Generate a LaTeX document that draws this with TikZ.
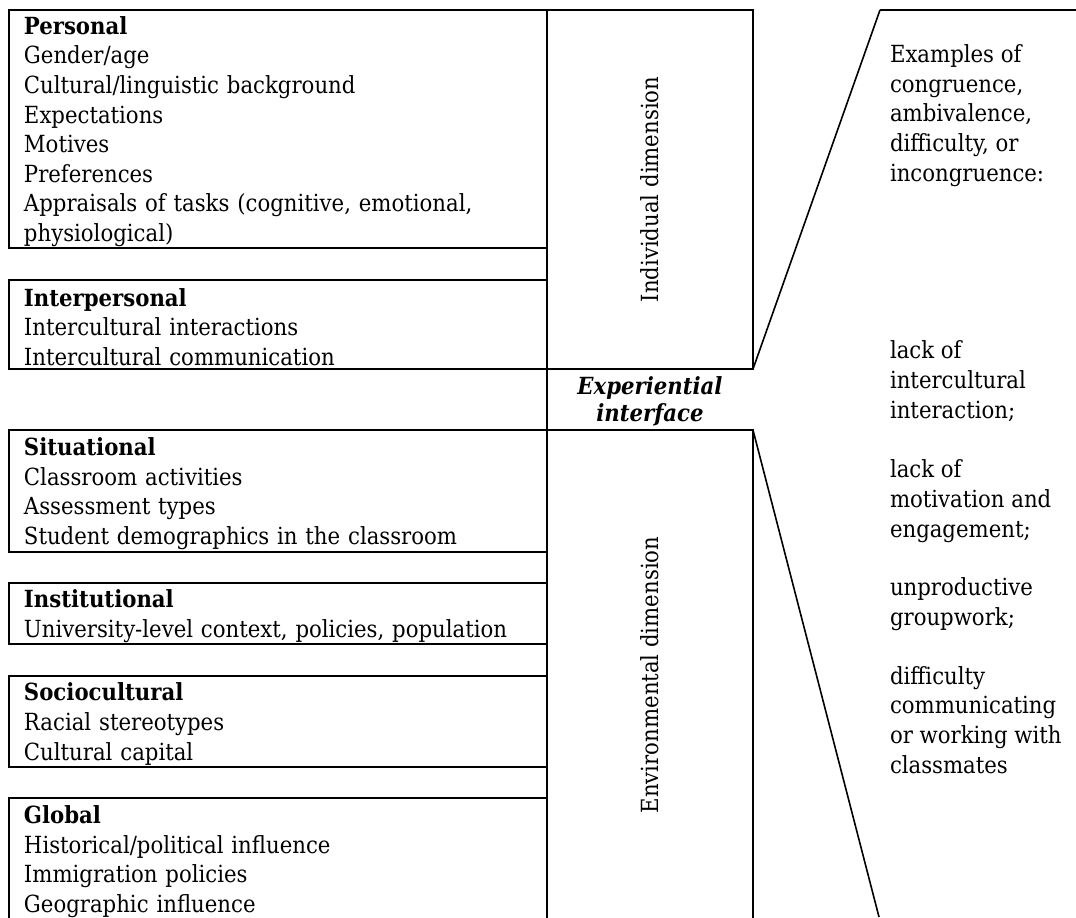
\documentclass[tikz,border=0pt]{standalone}
\usepackage{fontspec}
\setmainfont{DejaVu Serif Condensed}[
	BoldFont={DejaVu Serif Condensed Bold},
	ItalicFont={DejaVu Serif Condensed Italic},
	BoldItalicFont={DejaVu Serif Condensed Bold Italic}]
\begin{document}
\begin{tikzpicture}[x=0.5pt, y=-0.5pt,
		every node/.style={font=\fontsize{11.8}{14.8}\selectfont, outer sep=0pt},
		catbox/.style={draw, line width=1.2pt, anchor=north west, text width=254pt,
			inner xsep=7.5pt, inner ysep=0pt, align=left,
			execute at begin node={\rule{0pt}{11.5pt}}},
		dimbox/.style={draw, line width=1.2pt, anchor=north west, minimum width=103pt},
		example/.style={anchor=base west, align=left, inner sep=0pt}]
		\useasboundingbox (0,0) rectangle (1076,917);
		\clip (0,0) rectangle (1076,917);

		% individual side
		\node [catbox, minimum height=119pt] at (9,10) (personal) {\textbf{Personal}\\
			Gender/age\\ Cultural/linguistic background\\ Expectations\\ Motives\\
			Preferences\\ Appraisals of tasks (cognitive, emotional,\\ physiological)};
		\node [catbox, minimum height=44.5pt] at (9,280) (interpersonal) {\textbf{Interpersonal}\\
			Intercultural interactions\\ Intercultural communication};
		\node [dimbox, minimum height=179.5pt] at (547,10) (indiv) {};
		\node [rotate=90] at (indiv.center) (indivlabel) {Individual dimension};

		% environmental side
		\node [catbox, minimum height=61pt] at (9,430) (situational) {\textbf{Situational}\\
			Classroom activities\\ Assessment types\\ Student demographics in the classroom};
		\node [catbox, minimum height=30.5pt] at (9,583) (institutional) {\textbf{Institutional}\\
			University-level context, policies, population};
		\node [catbox, minimum height=45.5pt] at (9,676) (sociocultural) {\textbf{Sociocultural}\\
			Racial stereotypes\\ Cultural capital};
		\node [catbox, minimum height=61pt] at (9,798) (global) {\textbf{Global}\\
			Historical/political influence\\ Immigration policies\\ Geographic influence};
		\node [dimbox, minimum height=245pt] at (547,430) (env) {};
		\node [rotate=90] at (env.center) (envlabel) {Environmental dimension};

		\node [align=center, font=\fontsize{11.8}{13.5}\selectfont\bfseries\itshape]
			at (650,401) (exper) {Experiential\\ interface};
		\draw [line width=1.2pt] (indiv.south west) -- (env.north west);

		% zoom out to the examples
		\coordinate (ftop) at (880,10);
		\coordinate (fright) at (1080,10);
		\coordinate (fbot) at (879,917);
		\draw [line width=0.8pt] (indiv.south east) -- (ftop);
		\draw [line width=1.2pt] (ftop) -- (fright);
		\draw [line width=0.8pt] (env.north east) -- (fbot);

		% base = last line of each block
		\node [example] at (890,181) (ex0) {Examples of\\ congruence,\\ ambivalence,\\
			difficulty, or\\ incongruence:};
		\node [example] at (890,418) (ex1) {lack of\\ intercultural\\ interaction;};
		\node [example] at (890,537) (ex2) {lack of\\ motivation and\\ engagement;};
		\node [example] at (890,625) (ex3) {unproductive\\ groupwork;};
		\node [example] at (890,773) (ex4) {difficulty\\ communicating\\ or working with\\ classmates};
	\end{tikzpicture}
\end{document}
